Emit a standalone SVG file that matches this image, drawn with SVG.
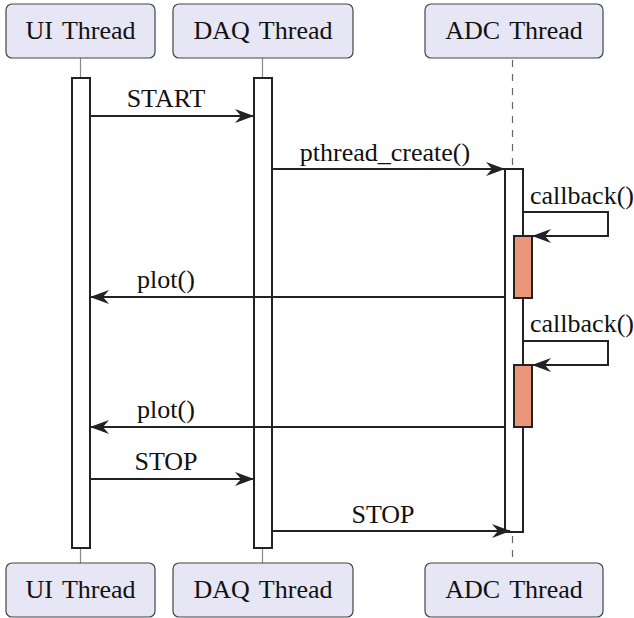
<svg xmlns="http://www.w3.org/2000/svg" width="634" height="618" viewBox="0 0 634 618">
<style>
.box{fill:#e6e6f5;stroke:#444;stroke-width:1.2}
.t,.lbl{font-family:"Liberation Serif","Times New Roman",serif;font-size:26px;fill:#111}
.t{word-spacing:3px}
.life{stroke:#888;stroke-width:1.2}
.dash{stroke:#666;stroke-width:1.2;stroke-dasharray:7,7}
.bar{fill:#fff;stroke:#222;stroke-width:2}
.sub{fill:#e9967a;stroke:#222;stroke-width:2}
.msg{stroke:#222;stroke-width:2;fill:none}
</style>
<defs>
<marker id="ah" viewBox="0 0 20 14" refX="18" refY="7" markerWidth="20" markerHeight="14" markerUnits="userSpaceOnUse" orient="auto">
<path d="M0,0 L19,7 L0,14 L6,7 Z" fill="#222"/>
</marker>
</defs>
<g id="lifelines">
<line class="life" x1="80.5" y1="58" x2="80.5" y2="78"/>
<line class="life" x1="80.5" y1="548" x2="80.5" y2="563"/>
<line class="life" x1="262.5" y1="58" x2="262.5" y2="78"/>
<line class="life" x1="262.5" y1="548" x2="262.5" y2="563"/>
<line class="dash" x1="512.5" y1="60" x2="512.5" y2="169"/>
<line class="dash" x1="512.5" y1="536" x2="512.5" y2="563"/>
</g>
<g id="ui-top"><rect class="box" x="6" y="4" width="149" height="54" rx="6"/><text class="t" x="80.5" y="39" text-anchor="middle">UI Thread</text></g>
<g id="daq-top"><rect class="box" x="173" y="4" width="180" height="54" rx="6"/><text class="t" x="263" y="39" text-anchor="middle">DAQ Thread</text></g>
<g id="adc-top"><rect class="box" x="425" y="4" width="178" height="54" rx="6"/><text class="t" x="514" y="39" text-anchor="middle">ADC Thread</text></g>
<g id="ui-bottom"><rect class="box" x="6" y="563" width="149" height="54" rx="6"/><text class="t" x="80.5" y="598" text-anchor="middle">UI Thread</text></g>
<g id="daq-bottom"><rect class="box" x="173" y="563" width="180" height="54" rx="6"/><text class="t" x="263" y="598" text-anchor="middle">DAQ Thread</text></g>
<g id="adc-bottom"><rect class="box" x="425" y="563" width="178" height="54" rx="6"/><text class="t" x="514" y="598" text-anchor="middle">ADC Thread</text></g>
<g id="ui-act"><rect class="bar" x="72" y="78" width="18" height="470"/></g>
<g id="daq-act"><rect class="bar" x="254" y="78" width="18" height="470"/></g>
<g id="adc-act"><rect class="bar" x="505" y="169" width="18" height="363"/></g>
<g id="cb1-act"><rect class="sub" x="514" y="236" width="18" height="62"/></g>
<g id="cb2-act"><rect class="sub" x="514" y="365" width="18" height="62"/></g>
<g id="connectors">
<line class="msg" x1="90" y1="116" x2="253" y2="116" marker-end="url(#ah)"/>
<line class="msg" x1="272" y1="169" x2="504" y2="169" marker-end="url(#ah)"/>
<polyline class="msg" points="523,212 608,212 608,236 533,236" marker-end="url(#ah)"/>
<line class="msg" x1="504" y1="297" x2="91" y2="297" marker-end="url(#ah)"/>
<polyline class="msg" points="523,341 608,341 608,365 533,365" marker-end="url(#ah)"/>
<line class="msg" x1="504" y1="427" x2="91" y2="427" marker-end="url(#ah)"/>
<line class="msg" x1="90" y1="479" x2="253" y2="479" marker-end="url(#ah)"/>
<line class="msg" x1="272" y1="531" x2="510" y2="531" marker-end="url(#ah)"/>
</g>
<g id="labels">
<text class="lbl" x="166" y="107" text-anchor="middle">START</text>
<text class="lbl" x="385" y="161" text-anchor="middle">pthread_create()</text>
<text class="lbl" x="582" y="204" text-anchor="middle">callback()</text>
<text class="lbl" x="166" y="288" text-anchor="middle">plot()</text>
<text class="lbl" x="582" y="332" text-anchor="middle">callback()</text>
<text class="lbl" x="166" y="418" text-anchor="middle">plot()</text>
<text class="lbl" x="166" y="470" text-anchor="middle">STOP</text>
<text class="lbl" x="383" y="523" text-anchor="middle">STOP</text>
</g>
</svg>
